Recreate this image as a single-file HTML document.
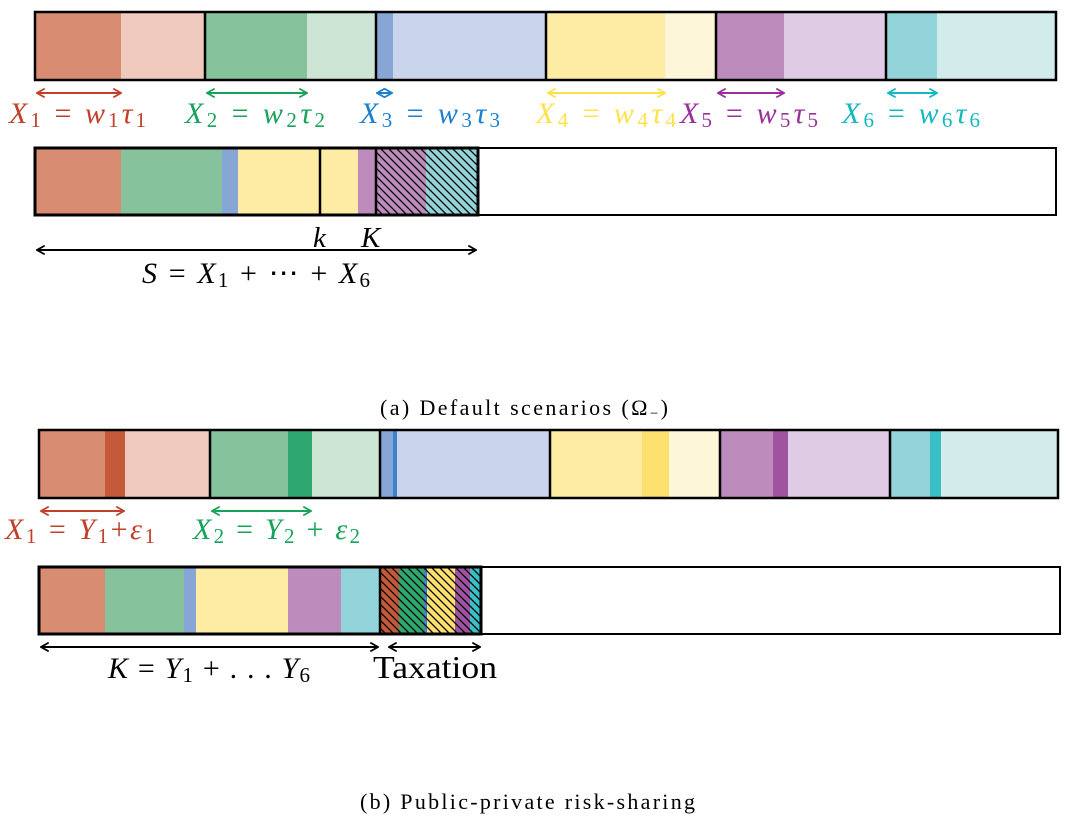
<!DOCTYPE html>
<html><head><meta charset="utf-8"><style>
html,body{margin:0;padding:0;background:#fff;}
svg{display:block}
text{font-family:"Liberation Serif",serif;}
.m{font-style:italic}
</style></head><body>
<svg width="1065" height="825" viewBox="0 0 1065 825" xmlns="http://www.w3.org/2000/svg">
<defs>
<pattern id="h" patternUnits="userSpaceOnUse" width="8" height="8">
<path d="M-2,-2 L10,10 M-10,-2 L2,10 M6,-2 L18,10" stroke="#000" stroke-width="1.3"/>
</pattern>
<marker id="a" viewBox="0 0 10 10" refX="9" refY="5" markerWidth="11" markerHeight="11" orient="auto-start-reverse" markerUnits="userSpaceOnUse">
<path d="M2,1 L9,5 L2,9" fill="none" stroke="context-stroke" stroke-width="1.6"/>
</marker>
</defs>

<g>
<rect x="35" y="12" width="86" height="68" fill="#d88d72"/>
<rect x="121" y="12" width="84" height="68" fill="#f0cbbd"/>
<rect x="205" y="12" width="102" height="68" fill="#86c39d"/>
<rect x="307" y="12" width="69" height="68" fill="#cce5d5"/>
<rect x="376" y="12" width="17" height="68" fill="#87a6d6"/>
<rect x="393" y="12" width="153" height="68" fill="#c9d5ec"/>
<rect x="546" y="12" width="119" height="68" fill="#feeba4"/>
<rect x="665" y="12" width="51" height="68" fill="#fef6d9"/>
<rect x="716" y="12" width="68" height="68" fill="#bd8cbd"/>
<rect x="784" y="12" width="102" height="68" fill="#dfcbe3"/>
<rect x="886" y="12" width="51" height="68" fill="#93d4da"/>
<rect x="937" y="12" width="119" height="68" fill="#d2ebeb"/>
<rect x="35" y="12" width="1021" height="68" fill="none" stroke="#000" stroke-width="2.5"/>
<path d="M205,12V80M376,12V80M546,12V80M716,12V80M886,12V80" stroke="#000" stroke-width="2.5"/>
</g>
<g stroke-width="2" fill="none">
<line x1="37" y1="93" x2="121" y2="93" stroke="#c0402a" marker-start="url(#a)" marker-end="url(#a)"/>
<line x1="207" y1="93" x2="307" y2="93" stroke="#17a35a" marker-start="url(#a)" marker-end="url(#a)"/>
<line x1="377" y1="93" x2="392" y2="93" stroke="#1a7fd0" marker-start="url(#a)" marker-end="url(#a)"/>
<line x1="548" y1="93" x2="665" y2="93" stroke="#fde24a" marker-start="url(#a)" marker-end="url(#a)"/>
<line x1="718" y1="93" x2="784" y2="93" stroke="#9b2f9b" marker-start="url(#a)" marker-end="url(#a)"/>
<line x1="888" y1="93" x2="937" y2="93" stroke="#14b8c0" marker-start="url(#a)" marker-end="url(#a)"/>
</g>
<g font-size="30">
<text x="9" y="123" fill="#c0402a" textLength="137"><tspan class="m">X</tspan><tspan font-size="21" dy="4">1</tspan><tspan dy="-4"> = </tspan><tspan class="m">w</tspan><tspan font-size="21" dy="4">1</tspan><tspan dy="-4" class="m">τ</tspan><tspan font-size="21" dy="4">1</tspan></text>
<text x="185" y="123" fill="#17a35a" textLength="140"><tspan class="m">X</tspan><tspan font-size="21" dy="4">2</tspan><tspan dy="-4"> = </tspan><tspan class="m">w</tspan><tspan font-size="21" dy="4">2</tspan><tspan dy="-4" class="m">τ</tspan><tspan font-size="21" dy="4">2</tspan></text>
<text x="360" y="123" fill="#1a7fd0" textLength="140"><tspan class="m">X</tspan><tspan font-size="21" dy="4">3</tspan><tspan dy="-4"> = </tspan><tspan class="m">w</tspan><tspan font-size="21" dy="4">3</tspan><tspan dy="-4" class="m">τ</tspan><tspan font-size="21" dy="4">3</tspan></text>
<text x="536" y="123" fill="#fde24a" textLength="140"><tspan class="m">X</tspan><tspan font-size="21" dy="4">4</tspan><tspan dy="-4"> = </tspan><tspan class="m">w</tspan><tspan font-size="21" dy="4">4</tspan><tspan dy="-4" class="m">τ</tspan><tspan font-size="21" dy="4">4</tspan></text>
<text x="680" y="123" fill="#9b2f9b" textLength="138"><tspan class="m">X</tspan><tspan font-size="21" dy="4">5</tspan><tspan dy="-4"> = </tspan><tspan class="m">w</tspan><tspan font-size="21" dy="4">5</tspan><tspan dy="-4" class="m">τ</tspan><tspan font-size="21" dy="4">5</tspan></text>
<text x="842" y="123" fill="#14b8c0" textLength="138"><tspan class="m">X</tspan><tspan font-size="21" dy="4">6</tspan><tspan dy="-4"> = </tspan><tspan class="m">w</tspan><tspan font-size="21" dy="4">6</tspan><tspan dy="-4" class="m">τ</tspan><tspan font-size="21" dy="4">6</tspan></text>
</g>

<g>
<rect x="35" y="148" width="1021" height="67" fill="#fff" stroke="#000" stroke-width="2"/>
<rect x="35" y="148" width="86" height="67" fill="#d88d72"/>
<rect x="121" y="148" width="101" height="67" fill="#86c39d"/>
<rect x="222" y="148" width="16" height="67" fill="#87a6d6"/>
<rect x="238" y="148" width="120" height="67" fill="#feeba4"/>
<rect x="358" y="148" width="18" height="67" fill="#bd8cbd"/>
<rect x="376" y="148" width="50" height="67" fill="#bd8cbd"/>
<rect x="426" y="148" width="52" height="67" fill="#93d4da"/>
<rect x="376" y="148" width="102" height="67" fill="url(#h)"/>
<rect x="35" y="148" width="443" height="67" fill="none" stroke="#000" stroke-width="3"/>
<path d="M320,148V215M376,148V215" stroke="#000" stroke-width="2.5"/>
</g>
<text x="313" y="247" font-size="29" class="m">k</text>
<text x="361" y="247" font-size="29" class="m">K</text>
<line x1="37" y1="250" x2="476" y2="250" stroke="#000" stroke-width="2" marker-start="url(#a)" marker-end="url(#a)"/>
<text x="142" y="283" font-size="30" textLength="228"><tspan class="m">S</tspan> = <tspan class="m">X</tspan><tspan font-size="21" dy="4">1</tspan><tspan dy="-4"> + ⋯ + </tspan><tspan class="m">X</tspan><tspan font-size="21" dy="4">6</tspan></text>

<text x="380" y="415" font-size="22" textLength="288">(a) Default scenarios (Ω<tspan font-size="15" dy="3">−</tspan><tspan dy="-3">)</tspan></text>

<g>
<rect x="39" y="430" width="66" height="68" fill="#d88d72"/>
<rect x="105" y="430" width="20" height="68" fill="#c55a3b"/>
<rect x="125" y="430" width="85" height="68" fill="#f0cbbd"/>
<rect x="210" y="430" width="78" height="68" fill="#86c39d"/>
<rect x="288" y="430" width="24" height="68" fill="#2ea86f"/>
<rect x="312" y="430" width="68" height="68" fill="#cce5d5"/>
<rect x="380" y="430" width="13" height="68" fill="#87a6d6"/>
<rect x="393" y="430" width="4" height="68" fill="#3f82cc"/>
<rect x="397" y="430" width="153" height="68" fill="#c9d5ec"/>
<rect x="550" y="430" width="92" height="68" fill="#feeba4"/>
<rect x="642" y="430" width="27" height="68" fill="#fee06e"/>
<rect x="669" y="430" width="51" height="68" fill="#fef6d9"/>
<rect x="720" y="430" width="53" height="68" fill="#bd8cbd"/>
<rect x="773" y="430" width="15" height="68" fill="#9f53a0"/>
<rect x="788" y="430" width="102" height="68" fill="#dfcbe3"/>
<rect x="890" y="430" width="40" height="68" fill="#93d4da"/>
<rect x="930" y="430" width="11" height="68" fill="#3abfc6"/>
<rect x="941" y="430" width="117" height="68" fill="#d2ebeb"/>
<rect x="39" y="430" width="1019" height="68" fill="none" stroke="#000" stroke-width="2.5"/>
<path d="M210,430V498M380,430V498M550,430V498M720,430V498M890,430V498" stroke="#000" stroke-width="2.5"/>
</g>
<line x1="41" y1="511" x2="124" y2="511" stroke="#c0402a" stroke-width="2" marker-start="url(#a)" marker-end="url(#a)"/>
<line x1="212" y1="511" x2="311" y2="511" stroke="#17a35a" stroke-width="2" marker-start="url(#a)" marker-end="url(#a)"/>
<text x="5" y="539" font-size="30" fill="#c0402a" textLength="150"><tspan class="m">X</tspan><tspan font-size="21" dy="4">1</tspan><tspan dy="-4"> = </tspan><tspan class="m">Y</tspan><tspan font-size="21" dy="4">1</tspan><tspan dy="-4">+</tspan><tspan class="m">ε</tspan><tspan font-size="21" dy="4">1</tspan></text>
<text x="193" y="539" font-size="30" fill="#17a35a" textLength="167"><tspan class="m">X</tspan><tspan font-size="21" dy="4">2</tspan><tspan dy="-4"> = </tspan><tspan class="m">Y</tspan><tspan font-size="21" dy="4">2</tspan><tspan dy="-4"> + </tspan><tspan class="m">ε</tspan><tspan font-size="21" dy="4">2</tspan></text>

<g>
<rect x="39" y="567" width="1021" height="67" fill="#fff" stroke="#000" stroke-width="2"/>
<rect x="39" y="567" width="66" height="67" fill="#d88d72"/>
<rect x="105" y="567" width="79" height="67" fill="#86c39d"/>
<rect x="184" y="567" width="12" height="67" fill="#87a6d6"/>
<rect x="196" y="567" width="92" height="67" fill="#feeba4"/>
<rect x="288" y="567" width="53" height="67" fill="#bd8cbd"/>
<rect x="341" y="567" width="39" height="67" fill="#93d4da"/>
<rect x="380" y="567" width="19" height="67" fill="#c55a3b"/>
<rect x="399" y="567" width="25" height="67" fill="#2ea86f"/>
<rect x="424" y="567" width="3" height="67" fill="#3f82cc"/>
<rect x="427" y="567" width="28" height="67" fill="#fee06e"/>
<rect x="455" y="567" width="15" height="67" fill="#9f53a0"/>
<rect x="470" y="567" width="11" height="67" fill="#3abfc6"/>
<rect x="380" y="567" width="101" height="67" fill="url(#h)"/>
<rect x="39" y="567" width="442" height="67" fill="none" stroke="#000" stroke-width="3"/>
<path d="M380,567V634" stroke="#000" stroke-width="2.5"/>
</g>
<line x1="41" y1="647" x2="378" y2="647" stroke="#000" stroke-width="2" marker-start="url(#a)" marker-end="url(#a)"/>
<line x1="389" y1="647" x2="480" y2="647" stroke="#000" stroke-width="2" marker-start="url(#a)" marker-end="url(#a)"/>
<text x="108" y="678" font-size="30" textLength="202"><tspan class="m">K</tspan> = <tspan class="m">Y</tspan><tspan font-size="21" dy="4">1</tspan><tspan dy="-4"> + . . . </tspan><tspan class="m">Y</tspan><tspan font-size="21" dy="4">6</tspan></text>
<text x="373" y="678" font-size="32" textLength="124" lengthAdjust="spacingAndGlyphs">Taxation</text>

<text x="360" y="809" font-size="22" textLength="335">(b) Public-private risk-sharing</text>
</svg>
</body></html>
